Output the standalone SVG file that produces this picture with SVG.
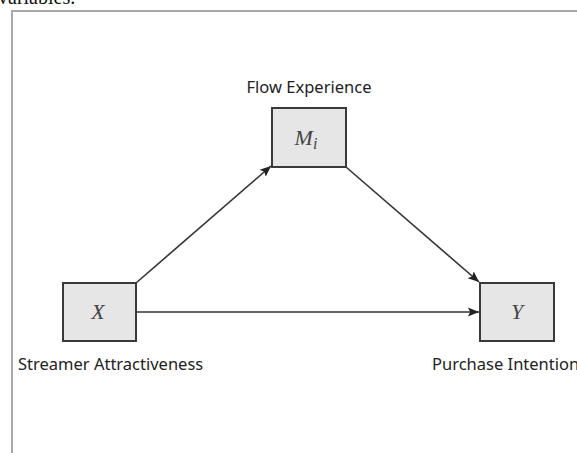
<svg xmlns="http://www.w3.org/2000/svg" width="577" height="453" viewBox="0 0 577 453">
<defs>
<marker id="ah" viewBox="0 0 10 10" refX="10" refY="5" markerWidth="11" markerHeight="11" markerUnits="userSpaceOnUse" orient="auto">
<path d="M0,0.8 L10,5 L0,9.2 L2,5 z" fill="#222"/>
</marker>
</defs>
<style>
.box{fill:#e6e6e6;stroke:#3a3a3a;stroke-width:2}
.var{font-family:"Liberation Serif",serif;font-style:italic;font-size:22px;fill:#444;text-anchor:middle}
.lbl{font-family:"Noto Sans","Open Sans",sans-serif;font-size:16.5px;fill:#222}
.conn{stroke:#333;stroke-width:1.6;fill:none;marker-end:url(#ah)}
</style>
<rect width="577" height="453" fill="#fff"/>
<text x="-2" y="4" font-family="Liberation Serif,serif" font-size="20" fill="#111">variables.</text>
<path d="M12,453 V11 H577" fill="none" stroke="#a8a8a8" stroke-width="2"/>
<g id="connectors">
<line class="conn" x1="136" y1="283" x2="271" y2="166"/>
<line class="conn" x1="346" y1="167" x2="479" y2="282"/>
<line class="conn" x1="136" y1="312" x2="479" y2="312"/>
</g>
<g id="M">
<rect class="box" x="272" y="108" width="74" height="59"/>
<text class="var" x="306" y="145">M<tspan font-size="16" dy="4">i</tspan></text>
<text class="lbl" x="309" y="93" text-anchor="middle">Flow Experience</text>
</g>
<g id="X">
<rect class="box" x="63" y="283" width="73" height="58"/>
<text class="var" x="98" y="319">X</text>
<text class="lbl" x="18" y="370">Streamer Attractiveness</text>
</g>
<g id="Y">
<rect class="box" x="480" y="283" width="74" height="58"/>
<text class="var" x="517" y="319">Y</text>
<text class="lbl" x="432" y="370">Purchase Intention</text>
</g>
</svg>
